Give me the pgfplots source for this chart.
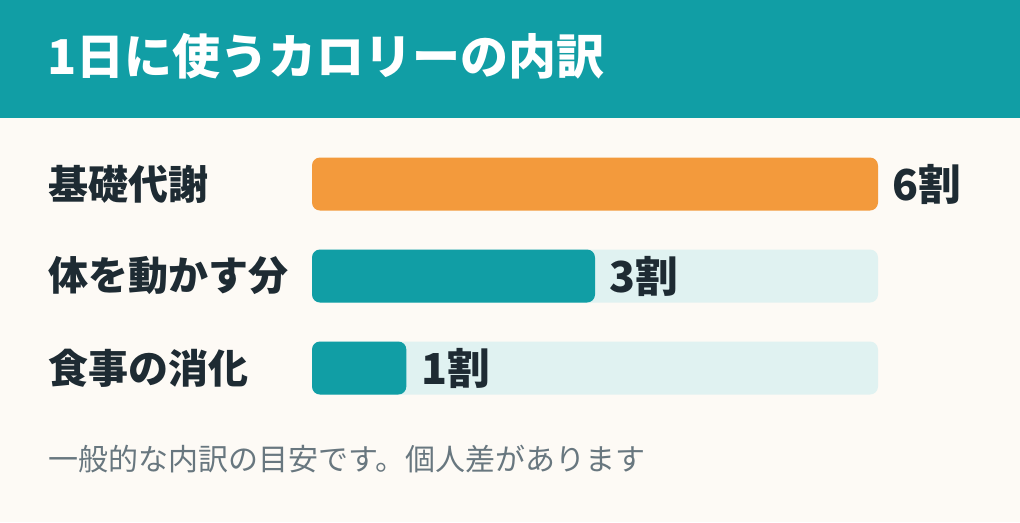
\documentclass[border=0pt]{standalone}
\usepackage{fontspec}
\setmainfont{Noto Sans CJK JP}
\usepackage{pgfplots}
\pgfplotsset{compat=1.18}
\definecolor{hdr}{HTML}{119EA5}
\definecolor{bgc}{HTML}{FDFAF5}
\definecolor{orng}{HTML}{F39A3C}
\definecolor{trk}{HTML}{E0F2F1}
\definecolor{ink}{HTML}{1E2B33}
\definecolor{note}{HTML}{68777F}
\begin{document}
\begin{tikzpicture}[x=0.75pt, y=0.75pt]
	% page and header band (pixel units, y downwards as negative)
	\fill[bgc] (0,0) rectangle (1020,-522);
	\fill[hdr] (0,0) rectangle (1020,-118);
	\node[anchor=west, text=white, inner sep=0pt,
		font=\fontsize{36pt}{40pt}\selectfont\bfseries] at (47,-56) {1日に使うカロリーの内訳};
	\begin{axis}[
		at={(234pt,-310.5pt)}, anchor=south west,
		scale only axis, width=424.5pt, height=207pt,
		xmin=0, xmax=6, ymin=-0.5, ymax=2.5, y dir=reverse,
		xbar, bar width=0.576, bar shift=0pt,
		axis line style={draw=none}, major tick length=0pt,
		xtick=\empty, ytick={0,1,2},
		yticklabels={基礎代謝,体を動かす分,食事の消化},
		yticklabel style={anchor=west, xshift=-198pt, inner sep=0pt, text=ink,
			font=\fontsize{30pt}{34pt}\selectfont\bfseries},
		clip=false,
		every axis plot/.append style={draw=none, rounded corners=6pt},
		]
		% light track behind each bar (full scale = 6)
		\addplot[fill=trk] coordinates {(6,1) (6,2)};
		\addplot[fill=orng, point meta=explicit symbolic, nodes near coords,
			every node near coord/.append style={anchor=west, xshift=11pt, inner sep=0pt, text=ink,
				font=\fontsize{32pt}{36pt}\selectfont\bfseries}]
		coordinates {(6,0) [6割]};
		\addplot[fill=hdr, point meta=explicit symbolic, nodes near coords,
			every node near coord/.append style={anchor=west, xshift=11pt, inner sep=0pt, text=ink,
				font=\fontsize{32pt}{36pt}\selectfont\bfseries}]
		coordinates {(3,1) [3割] (1,2) [1割]};
	\end{axis}
	\node[anchor=west, text=note, inner sep=0pt,
		font=\fontsize{22.5pt}{26pt}\selectfont] at (48,-459) {一般的な内訳の目安です。個人差があります};
\end{tikzpicture}
\end{document}
